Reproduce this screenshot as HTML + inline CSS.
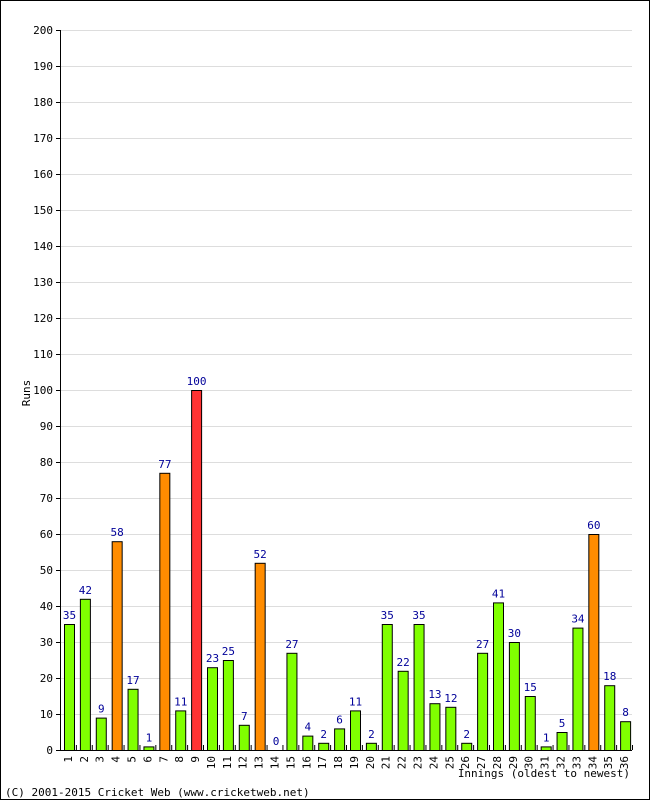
<!DOCTYPE html>
<html><head><meta charset="utf-8"><style>
body{margin:0;background:#fff}
svg{display:block;font-family:"DejaVu Sans Mono","Liberation Mono",monospace}
</style></head><body>
<svg id="chart" width="650" height="800" viewBox="0 0 650 800" xmlns="http://www.w3.org/2000/svg">
<rect x="0.5" y="0.5" width="649" height="799" fill="#fff" stroke="#000"/>
<g id="grid"></g><g id="bars"></g><g id="axes"></g>
<text x="30" y="393" font-size="11" text-anchor="middle" transform="rotate(-90 30 393)">Runs</text>
<text x="630" y="777" font-size="11" text-anchor="end">Innings (oldest to newest)</text>
<text x="5" y="796" font-size="11">(C) 2001-2015 Cricket Web (www.cricketweb.net)</text>
</svg>
<script>
const innings = [1,2,3,4,5,6,7,8,9,10,11,12,13,14,15,16,17,18,19,20,21,22,23,24,25,26,27,28,29,30,31,32,33,34,35,36];
const runs = [35,42,9,58,17,1,77,11,100,23,25,7,52,0,27,4,2,6,11,2,35,22,35,13,12,2,27,41,30,15,1,5,34,60,18,8];
const yTicks = [0,10,20,30,40,50,60,70,80,90,100,110,120,130,140,150,160,170,180,190,200];
const NS="http://www.w3.org/2000/svg";
const X0=60,X1=632,Y0=750,Y1=30,YMAX=200;
const slot=(X1-X0)/innings.length;
const y=v=>Y0-(v/YMAX)*(Y0-Y1);
const xs=i=>X0+i*slot;
function mk(tag,attrs,parent){const e=document.createElementNS(NS,tag);for(const k in attrs)e.setAttribute(k,attrs[k]);parent.appendChild(e);return e;}
const grid=document.getElementById('grid'),bars=document.getElementById('bars'),axes=document.getElementById('axes');
yTicks.forEach(t=>{
  if(t>0){const g=mk('line',{x1:X0,x2:X1,y1:y(t)+.5,y2:y(t)+.5,stroke:'#ddd'},grid);
  
  }
  const tk=mk('line',{x1:X0-4,x2:X0,y1:y(t)+.5,y2:y(t)+.5,stroke:'#000'},axes);
  
  
  const l=mk('text',{x:X0-7,y:y(t)+4,'font-size':11,'text-anchor':'end'},axes);l.textContent=t;
  
  
});
runs.forEach((v,i)=>{
  const col=v>=100?'#ff3333':v>=50?'#ff8c00':'#80ff00';
  const bx=xs(i)+4.5;
  const r=mk('rect',{x:bx,y:y(v)+.5,width:10,height:Math.max(0,Y0-y(v)),fill:col,stroke:'#000'},bars);
  
  
  const t=mk('text',{x:bx+5,y:y(v)-5,'font-size':11,'text-anchor':'middle',fill:'#000099'},bars);t.textContent=v;
  
  
  const lx=xs(i)+slot/2+4;
  const c=mk('text',{x:lx,y:Y0+6,'font-size':11,'text-anchor':'end',transform:'rotate(-90 '+lx+' '+(Y0+6)+')'},axes);c.textContent=innings[i];
  
  
  const tk=mk('line',{x1:xs(i+1)+.5,x2:xs(i+1)+.5,y1:Y0-5,y2:Y0,stroke:'#000'},axes);
  
  
});
const ya=mk('line',{x1:X0+.5,x2:X0+.5,y1:Y1,y2:Y0,stroke:'#000'},axes);


const xa=mk('line',{x1:X0,x2:X1,y1:Y0+.5,y2:Y0+.5,stroke:'#000'},axes);


</script>
</body></html>
